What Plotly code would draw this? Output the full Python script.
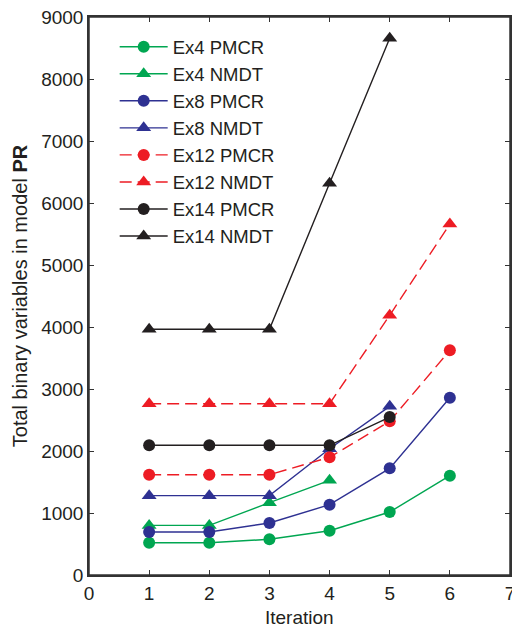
import plotly.graph_objects as go

iterations_6 = [1, 2, 3, 4, 5, 6]
iterations_5 = [1, 2, 3, 4, 5]
iterations_4 = [1, 2, 3, 4]

ex4_pmcr = [520, 520, 576, 714, 1016, 1602]
ex4_nmdt = [800, 800, 1166, 1527]
ex8_pmcr = [694, 694, 839, 1134, 1720, 2860]
ex8_nmdt = [1280, 1280, 1280, 2037, 2720]
ex12_pmcr = [1618, 1618, 1618, 1898, 2479, 3624]
ex12_nmdt = [2763, 2763, 2763, 2763, 4188, 5661]
ex14_pmcr = [2092, 2092, 2092, 2092, 2548]
ex14_nmdt = [3963, 3963, 3963, 6318, 8656]

x_ticks = [0, 1, 2, 3, 4, 5, 6, 7]
y_ticks = [0, 1000, 2000, 3000, 4000, 5000, 6000, 7000, 8000, 9000]

GREEN = "#00A651"
BLUE = "#2E3192"
RED = "#ED1C24"
BLACK = "#231F20"

series = [
    ("Ex4 PMCR", iterations_6, ex4_pmcr, GREEN, "circle", "solid"),
    ("Ex4 NMDT", iterations_4, ex4_nmdt, GREEN, "triangle-up", "solid"),
    ("Ex8 PMCR", iterations_6, ex8_pmcr, BLUE, "circle", "solid"),
    ("Ex8 NMDT", iterations_5, ex8_nmdt, BLUE, "triangle-up", "solid"),
    ("Ex12 PMCR", iterations_6, ex12_pmcr, RED, "circle", "12px,6px"),
    ("Ex12 NMDT", iterations_6, ex12_nmdt, RED, "triangle-up", "12px,6px"),
    ("Ex14 PMCR", iterations_5, ex14_pmcr, BLACK, "circle", "solid"),
    ("Ex14 NMDT", iterations_5, ex14_nmdt, BLACK, "triangle-up", "solid"),
]

fig = go.Figure()
for name, xs, ys, color, symbol, dash in series:
    fig.add_trace(go.Scatter(
        x=xs, y=ys, name=name, mode="lines+markers",
        line=dict(color=color, width=1.4, dash=dash),
        marker=dict(color=color, symbol=symbol, size=12 if symbol == "circle" else 13),
        cliponaxis=False,
    ))

FONT = "Liberation Sans, Arial, Helvetica, sans-serif"
AXC = "#333333"

fig.update_layout(
    width=512, height=624,
    margin=dict(l=89, r=2, t=17, b=49, autoexpand=False),
    paper_bgcolor="white", plot_bgcolor="white",
    font=dict(family=FONT, size=19, color=BLACK),
    showlegend=True,
    legend=dict(
        x=0.061, y=0.98, xanchor="left", yanchor="top",
        bgcolor="rgba(0,0,0,0)", borderwidth=0,
        itemwidth=48, font=dict(size=18.5, color=BLACK),
    ),
    xaxis=dict(
        range=[0, 7], tickvals=x_ticks, ticktext=[str(v) for v in x_ticks],
        showgrid=False, zeroline=False, automargin=False,
        showline=True, linecolor=AXC, linewidth=1.5, mirror="ticks",
        ticks="inside", ticklen=5, tickwidth=1.2, tickcolor=AXC,
        ticklabeloverflow="allow",
        tickfont=dict(size=19),
    ),
    yaxis=dict(
        range=[0, 9000], tickvals=y_ticks, ticktext=[str(v) for v in y_ticks],
        showgrid=False, zeroline=False, automargin=False,
        showline=True, linecolor=AXC, linewidth=1.5, mirror="ticks",
        ticks="inside", ticklen=5, tickwidth=1.2, tickcolor=AXC,
        ticklabeloverflow="allow",
        title=dict(text="Total binary variables in model <b>PR</b>", standoff=8, font=dict(size=20)),
        tickfont=dict(size=19),
    ),
    annotations=[dict(text="Iteration", xref="paper", yref="paper", x=0.5, y=0,
                      xanchor="center", yanchor="middle", yshift=-42, showarrow=False,
                      font=dict(size=19, color=BLACK))],
    shapes=[dict(type="rect", xref="paper", yref="paper", x0=0, x1=1, y0=0, y1=1,
                 line=dict(color=AXC, width=1.5), layer="above")],
)

fig.write_html(
    "out.html",
    config={"displayModeBar": False},
    post_script="document.body.style.margin='0';document.body.style.overflow='hidden';",
)
